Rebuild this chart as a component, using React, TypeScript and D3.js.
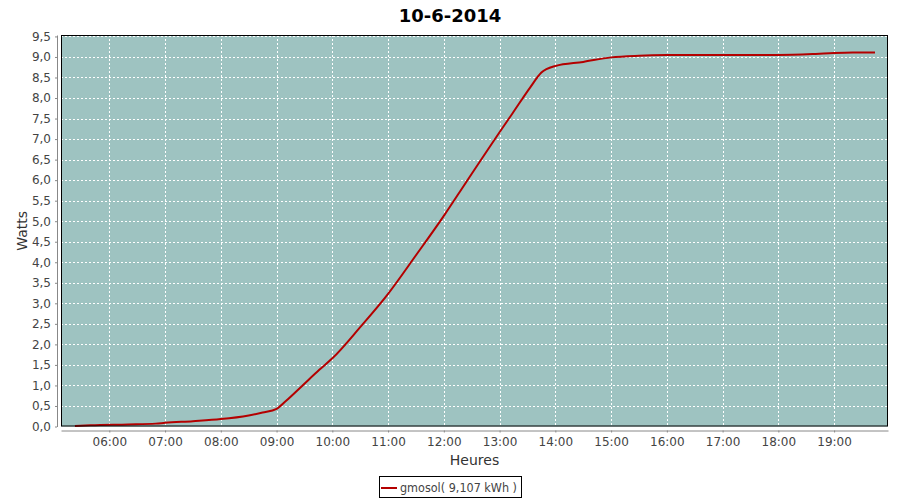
// @ts-nocheck
import React, { useEffect, useRef } from "react";
import * as d3 from "d3";

const title = "10-6-2014";
const seriesName = "gmosol( 9,107 kWh )";
const times = [
  "05:23", "05:40", "06:20", "06:50", "07:00", "07:30", "08:00", "08:30",
  "08:45", "09:00", "09:10", "09:28", "09:46", "10:00", "10:30", "11:00",
  "11:30", "12:00", "12:24", "13:04", "13:14", "13:33", "13:45", "14:00",
  "14:30", "15:00", "15:30", "16:00", "17:00", "18:00", "18:40", "18:55",
  "19:20", "19:44",
];
const values = [
  0.01, 0.03, 0.05, 0.07, 0.09, 0.13, 0.18, 0.27,
  0.34, 0.43, 0.62, 1.0, 1.38, 1.66, 2.42, 3.23,
  4.17, 5.13, 5.95, 7.3, 7.63, 8.26, 8.62, 8.78,
  8.88, 8.99, 9.03, 9.045, 9.05, 9.05, 9.075, 9.09,
  9.107, 9.107,
];
const yTicks = d3.range(0, 9.51, 0.5);
const xStart = "05:08";
const xEnd = "19:58";

const toDate = (s) => {
  const [h, m] = s.split(":").map(Number);
  return new Date(2014, 5, 10, h, m);
};

const App = () => {
  const svgRef = useRef();

  useEffect(() => {
    const W = 900;
    const H = 500;
    const plot = { left: 61, top: 35, right: 888, bottom: 426.5 };
    const font = "DejaVu Sans, sans-serif";
    const textColor = "#444444";

    const svg = d3.select(svgRef.current);
    svg.selectAll("*").remove();
    svg.attr("width", W).attr("height", H);

    svg.append("rect").attr("width", W).attr("height", H).attr("fill", "#ffffff");

    const x = d3
      .scaleTime()
      .domain([toDate(xStart), toDate(xEnd)])
      .range([plot.left, plot.right]);
    const y = d3.scaleLinear().domain([0, 9.535]).range([plot.bottom, plot.top]);

    // plot background
    svg
      .append("rect")
      .attr("x", plot.left)
      .attr("y", plot.top)
      .attr("width", plot.right - plot.left)
      .attr("height", plot.bottom - plot.top)
      .attr("fill", "#9ec3c1");

    const xTicks = x.ticks(d3.timeHour.every(1));

    // grid lines
    svg
      .append("g")
      .selectAll("line")
      .data(xTicks)
      .enter()
      .append("line")
      .attr("x1", (d) => Math.round(x(d)) + 0.5)
      .attr("x2", (d) => Math.round(x(d)) + 0.5)
      .attr("y1", plot.top)
      .attr("y2", plot.bottom)
      .attr("stroke", "#ffffff")
      .attr("stroke-dasharray", "2,2");

    svg
      .append("g")
      .selectAll("line")
      .data(yTicks.slice(1))
      .enter()
      .append("line")
      .attr("x1", plot.left)
      .attr("x2", plot.right)
      .attr("y1", (d) => Math.round(y(d)) + 0.5)
      .attr("y2", (d) => Math.round(y(d)) + 0.5)
      .attr("stroke", "#ffffff")
      .attr("stroke-dasharray", "2,2");

    // series line
    const data = times.map((t, i) => ({ t: toDate(t), v: values[i] }));
    const line = d3
      .line()
      .x((d) => x(d.t))
      .y((d) => y(d.v))
      .curve(d3.curveMonotoneX);
    svg
      .append("path")
      .datum(data)
      .attr("d", line)
      .attr("fill", "none")
      .attr("stroke", "#b40000")
      .attr("stroke-width", 2);

    // plot outline
    svg
      .append("rect")
      .attr("x", plot.left + 0.5)
      .attr("y", plot.top + 0.5)
      .attr("width", plot.right - plot.left - 1)
      .attr("height", plot.bottom - plot.top - 1)
      .attr("fill", "none")
      .attr("stroke", "#000000");

    // x axis
    const xAxis = svg
      .append("g")
      .attr("transform", `translate(0,${plot.bottom + 4})`)
      .call(
        d3
          .axisBottom(x)
          .ticks(d3.timeHour.every(1))
          .tickFormat(d3.timeFormat("%H:%M"))
          .tickSize(2)
          .tickSizeOuter(0)
          .tickPadding(5),
      );
    xAxis.select(".domain").attr("stroke", "#888888");
    xAxis.selectAll(".tick line").attr("stroke", "#888888");
    xAxis
      .selectAll("text")
      .attr("fill", textColor)
      .style("font-family", font)
      .style("font-size", "12px");

    // y axis
    const yAxis = svg
      .append("g")
      .attr("transform", `translate(${plot.left - 4},0)`)
      .call(
        d3
          .axisLeft(y)
          .tickValues(yTicks)
          .tickFormat((d) => d3.format(".1f")(d).replace(".", ","))
          .tickSize(2)
          .tickSizeOuter(0)
          .tickPadding(4),
      );
    yAxis.select(".domain").attr("stroke", "#888888");
    yAxis.selectAll(".tick line").attr("stroke", "#888888");
    yAxis
      .selectAll("text")
      .attr("fill", textColor)
      .style("font-family", font)
      .style("font-size", "12px");

    // title
    svg
      .append("text")
      .attr("x", W / 2)
      .attr("y", 22)
      .attr("text-anchor", "middle")
      .style("font-family", font)
      .style("font-weight", "bold")
      .style("font-size", "18px")
      .attr("fill", "#000000")
      .text(title);

    // axis labels
    svg
      .append("text")
      .attr("x", (plot.left + plot.right) / 2)
      .attr("y", 465)
      .attr("text-anchor", "middle")
      .style("font-family", font)
      .style("font-size", "14px")
      .attr("fill", "#333333")
      .text("Heures");

    svg
      .append("text")
      .attr("transform", `translate(27,${(plot.top + plot.bottom) / 2}) rotate(-90)`)
      .attr("text-anchor", "middle")
      .style("font-family", font)
      .style("font-size", "14px")
      .attr("fill", "#333333")
      .text("Watts");

    // legend
    const lg = svg.append("g");
    lg.append("rect")
      .attr("x", 379.5)
      .attr("y", 476.5)
      .attr("width", 142)
      .attr("height", 21)
      .attr("fill", "#ffffff")
      .attr("stroke", "#000000");
    lg.append("line")
      .attr("x1", 381)
      .attr("x2", 397)
      .attr("y1", 488)
      .attr("y2", 488)
      .attr("stroke", "#b40000")
      .attr("stroke-width", 2);
    lg.append("text")
      .attr("x", 400)
      .attr("y", 492)
      .style("font-family", font)
      .style("font-size", "11.5px")
      .attr("textLength", 117)
      .attr("lengthAdjust", "spacingAndGlyphs")
      .attr("fill", textColor)
      .text(seriesName);
  }, []);

  return <svg ref={svgRef} style={{ position: "absolute", left: 0, top: 0 }}></svg>;
};

export default App;
